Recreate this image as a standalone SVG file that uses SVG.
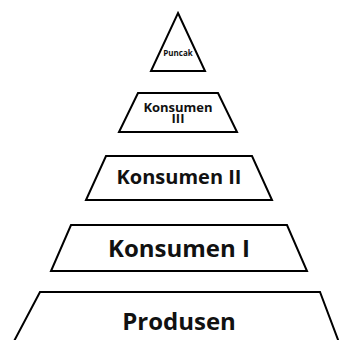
<svg xmlns="http://www.w3.org/2000/svg" width="339" height="340" viewBox="0 0 339 340">
<style>
.s{fill:#fff;stroke:#000;stroke-width:2;stroke-linejoin:miter}
.t{font-family:"Open Sans","Noto Sans",sans-serif;font-weight:bold;fill:#111;text-anchor:middle}
</style>
<rect width="339" height="340" fill="#fff"/>
<g id="puncak">
<polygon class="s" points="178,13 205,71 151,71"/>
<text class="t" x="178" y="56" font-size="8">Puncak</text>
</g>
<g id="konsumen3">
<polygon class="s" points="138,93 218,93 237,132 119,132"/>
<text class="t" x="178" y="112" font-size="13">Konsumen</text>
<text class="t" x="178" y="123" font-size="13">III</text>
</g>
<g id="konsumen2">
<polygon class="s" points="106,156 252,156 272,200 86,200"/>
<text class="t" x="179" y="184" font-size="20">Konsumen II</text>
</g>
<g id="konsumen1">
<polygon class="s" points="71,225 287,225 307,271 51,271"/>
<text class="t" x="179" y="257" font-size="24">Konsumen I</text>
</g>
<g id="produsen">
<polygon class="s" points="40,292 320,292 340,345 12,345"/>
<text class="t" x="179" y="330" font-size="24">Produsen</text>
</g>
<g id="connectors"/>
</svg>
